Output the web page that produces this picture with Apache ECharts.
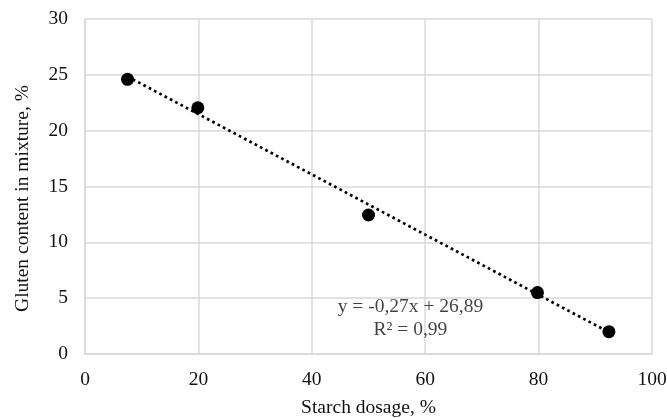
<!DOCTYPE html>
<html>
<head>
<meta charset="utf-8">
<script src="https://cdn.jsdelivr.net/npm/echarts@6/dist/echarts.min.js"></script>
<style>
  html, body { margin: 0; padding: 0; background: #fff; }
  #chart { width: 667px; height: 418px; }
</style>
</head>
<body>
<div id="chart"></div>
<script>
// starch dosage (%) vs gluten content (%)
var starchDosage = [7.5, 19.9, 50, 79.8, 92.4];
var glutenContent = [24.6, 22.05, 12.45, 5.5, 2.0];
// trendline ends
var trendX = [7.5, 92.4];
var trendY = [24.85, 1.95];
var xTicks = [0, 20, 40, 60, 80, 100];
var yTicks = [0, 5, 10, 15, 20, 25, 30];
var equationText = ['y = -0,27x + 26,89', 'R² = 0,99'];
var equationAt = [57.4, 3.2];

var font = '"Liberation Serif", "Times New Roman", serif';
var txt = '#111';
var myChart = echarts.init(document.getElementById('chart'));

var points = starchDosage.map(function (x, i) { return [x, glutenContent[i]]; });
var trend = trendX.map(function (x, i) { return [x, trendY[i]]; });

var option = {
  animation: false,
  textStyle: { fontFamily: font },
  grid: { left: 85, right: 15, top: 19, bottom: 64, outerBoundsMode: 'none', containLabel: false },
  xAxis: {
    type: 'value',
    min: xTicks[0],
    max: xTicks[xTicks.length - 1],
    interval: 20,
    name: 'Starch dosage, %',
    nameLocation: 'middle',
    nameGap: 44,
    nameTextStyle: { fontFamily: font, fontSize: 19.5, color: txt },
    axisLine: { lineStyle: { color: '#d9d9d9', width: 1.5 } },
    axisTick: { show: false },
    axisLabel: { fontFamily: font, fontSize: 19.5, color: txt, margin: 16 },
    splitLine: { lineStyle: { color: '#d9d9d9', width: 1.5 } }
  },
  yAxis: {
    type: 'value',
    min: yTicks[0],
    max: yTicks[yTicks.length - 1],
    interval: 5,
    name: 'Gluten content in mixture, %',
    nameLocation: 'middle',
    nameGap: 52,
    // title sits a little below the middle of the axis
    nameTextStyle: { fontFamily: font, fontSize: 19.5, color: txt, padding: [0, 24, 0, 0] },
    axisLine: { show: true, lineStyle: { color: '#d9d9d9', width: 1.5 } },
    axisTick: { show: false },
    axisLabel: { fontFamily: font, fontSize: 19.5, color: txt, margin: 17 },
    splitLine: { lineStyle: { color: '#d9d9d9', width: 1.5 } }
  },
  series: [
    {
      name: 'trend',
      type: 'line',
      data: trend,
      symbol: 'none',
      z: 2,
      lineStyle: { color: '#000', width: 2.7, type: [2.7, 3.3] }
    },
    {
      name: 'data',
      type: 'scatter',
      data: points,
      symbolSize: 13,
      z: 3,
      itemStyle: { color: '#000', opacity: 1 }
    },
    {
      name: 'equation',
      type: 'scatter',
      data: [equationAt],
      symbolSize: 0,
      silent: true,
      label: {
        show: true,
        position: 'inside',
        formatter: equationText.join('\n'),
        fontFamily: font,
        fontSize: 19.5,
        lineHeight: 22.5,
        color: txt,
        align: 'center'
      }
    }
  ]
};

myChart.setOption(option);
</script>
</body>
</html>
